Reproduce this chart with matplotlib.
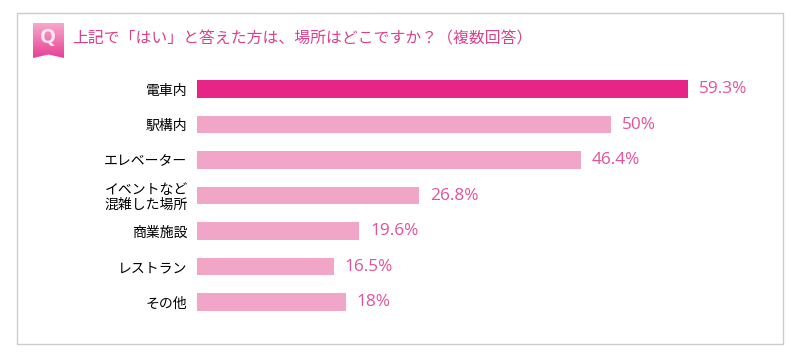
import numpy as np
import matplotlib
matplotlib.use("Agg")
import matplotlib.pyplot as plt
from matplotlib.patches import Rectangle, Polygon

plt.rcParams['font.family'] = ['Noto Sans CJK JP', 'DejaVu Sans']

title = "上記で「はい」と答えた方は、場所はどこですか\uff1f\uff08複数回答\uff09"
categories = ["電車内", "駅構内", "エレベーター", "イベントなど\n混雑した場所", "商業施設", "レストラン", "その他"]
values = [59.3, 50, 46.4, 26.8, 19.6, 16.5, 18]
value_labels = ["59.3%", "50%", "46.4%", "26.8%", "19.6%", "16.5%", "18%"]
bar_colors = ["#E62587"] + ["#F2A6C7"] * 6

W, H = 800, 357
fig = plt.figure(figsize=(W / 100, H / 100), dpi=100, facecolor="white")

# Overlay in pixel coordinates for the frame, badge and title
bg = fig.add_axes([0, 0, 1, 1])
bg.set_xlim(0, W)
bg.set_ylim(H, 0)
bg.axis("off")
bg.add_patch(Rectangle((17.0, 13.0), 766, 331, fc="white", ec="#CCCCCC", lw=1.0))

grad = np.linspace(0, 1, 64)[:, None, None]
top = np.array([0.965, 0.66, 0.80])
bot = np.array([0.91, 0.25, 0.58])
img = top + (bot - top) * grad
im = bg.imshow(img, extent=(33, 64, 58, 23), aspect="auto", zorder=2)
clip = Polygon([(33, 23), (64, 23), (64, 58), (48.5, 54.5), (33, 58)], closed=True,
               transform=bg.transData, fc="none", ec="none")
bg.add_patch(clip)
im.set_clip_path(clip)
bg.set_xlim(0, W)
bg.set_ylim(H, 0)
bg.text(48, 38, "Q", color="#FBE9F2", fontsize=14.5, fontweight="bold",
        ha="center", va="center", family="Open Sans", zorder=3)
bg.text(72.5, 38.5, title, color="#D9418F", fontsize=11.4, ha="left", va="center", zorder=3)

# Bars
ax = fig.add_axes([197 / W, 1 - 319.75 / H, 560 / W, 248.5 / H])
ax.patch.set_alpha(0)
y = np.arange(len(values))
ax.barh(y, values, height=0.48, color=bar_colors)
ax.set_xlim(0, 560 / 8.28)
ax.set_ylim(6.5, -0.5)
ax.set_yticks(y)
ax.set_yticklabels(categories, fontsize=10, color="#000000", linespacing=1.08)
ax.tick_params(axis="y", length=0, pad=6.8)
ax.set_xticks([])
for s in ax.spines.values():
    s.set_visible(False)
for yi, v, lab in zip(y, values, value_labels):
    ax.annotate(lab, (v, yi), xytext=(7.8, 0), textcoords="offset points",
                color="#E0529C", fontsize=12.4, va="center", ha="left", family="Open Sans")

fig.savefig("out.png", dpi=100)
